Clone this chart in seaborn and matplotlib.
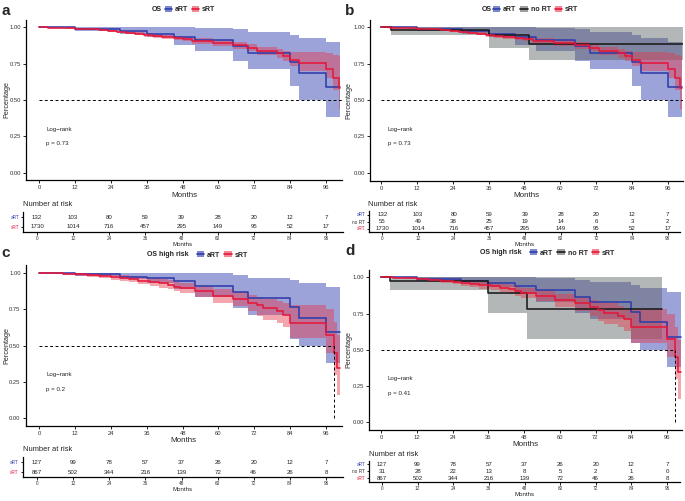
import numpy as np
import pandas as pd
import matplotlib
matplotlib.use("Agg")
import matplotlib.pyplot as plt
import seaborn as sns
from matplotlib.patches import Patch
from matplotlib.lines import Line2D
from matplotlib.legend_handler import HandlerTuple

# ---------------- data ----------------
months_ticks = [0, 12, 24, 36, 48, 60, 72, 84, 96]

# all patients
aRT_t = [0, 12, 27, 36, 45, 52, 65, 70, 84, 87, 96, 100.7]
aRT_s = [1.0, 0.99, 0.977, 0.957, 0.934, 0.91, 0.873, 0.826, 0.762, 0.686, 0.586, 0.586]
aRT_lo = [1.0, 0.975, 0.955, 0.935, 0.875, 0.837, 0.769, 0.71, 0.597, 0.499, 0.38, 0.38]
aRT_hi = [1.0, 1.0, 1.0, 1.0, 0.999, 0.998, 0.986, 0.968, 0.95, 0.927, 0.90, 0.90]

sRT_t = [0, 3, 6, 9, 12, 16, 20, 23, 26, 29, 32, 35, 38, 41, 45, 48, 51, 58, 65, 69.5,
         73, 79.5, 81.7, 84, 86.8, 96, 98.5, 100.2, 100.7]
sRT_s = [1.0, 0.997, 0.995, 0.992, 0.99, 0.985, 0.98, 0.975, 0.968, 0.962, 0.955, 0.948,
         0.94, 0.932, 0.925, 0.92, 0.906, 0.892, 0.876, 0.861, 0.837, 0.82, 0.80, 0.778,
         0.755, 0.71, 0.648, 0.58, 0.58]
sRT_lo = [1.0, 0.995, 0.992, 0.988, 0.985, 0.979, 0.973, 0.967, 0.959, 0.952, 0.944, 0.936,
          0.927, 0.918, 0.91, 0.904, 0.888, 0.872, 0.853, 0.835, 0.808, 0.788, 0.765, 0.735,
          0.70, 0.65, 0.57, 0.44, 0.44]
sRT_hi = [1.0, 0.999, 0.998, 0.996, 0.995, 0.991, 0.987, 0.983, 0.977, 0.972, 0.966, 0.96,
          0.953, 0.946, 0.94, 0.936, 0.924, 0.912, 0.899, 0.887, 0.866, 0.852, 0.835, 0.83,
          0.83, 0.82, 0.81, 0.80, 0.80]

noRT_t = [0, 3.4, 36.3, 49.5, 101]
noRT_s = [1.0, 0.978, 0.945, 0.888, 0.888]
noRT_lo = [1.0, 0.95, 0.86, 0.773, 0.773]
noRT_hi = [1.0, 1.0, 1.0, 1.0, 1.0]

# high risk
aRTh_t = [0, 12, 27, 36, 45, 52, 65, 70, 84, 87, 96, 100.7]
aRTh_s = [1.0, 0.989, 0.973, 0.962, 0.941, 0.909, 0.866, 0.827, 0.763, 0.69, 0.591, 0.591]
aRTh_lo = [1.0, 0.975, 0.955, 0.93, 0.885, 0.83, 0.757, 0.711, 0.546, 0.50, 0.378, 0.378]
aRTh_hi = [1.0, 1.0, 1.0, 1.0, 0.999, 0.998, 0.984, 0.966, 0.95, 0.927, 0.90, 0.90]

sRTh_t = [0, 4, 8, 12, 16, 20, 24, 27, 30, 33, 37, 40, 43, 45, 47, 52, 58.3, 65, 70,
          72.8, 75, 79.5, 81.7, 84, 96, 98.7, 99.6, 100.7]
sRTh_s = [1.0, 0.997, 0.994, 0.989, 0.984, 0.977, 0.97, 0.962, 0.955, 0.946, 0.938, 0.927,
          0.916, 0.904, 0.893, 0.872, 0.843, 0.82, 0.793, 0.775, 0.756, 0.736, 0.711, 0.657,
          0.574, 0.45, 0.345, 0.345]
sRTh_lo = [1.0, 0.992, 0.986, 0.978, 0.97, 0.962, 0.952, 0.942, 0.933, 0.922, 0.912, 0.898,
           0.885, 0.872, 0.86, 0.835, 0.795, 0.77, 0.735, 0.70, 0.675, 0.657, 0.629, 0.55,
           0.45, 0.3, 0.16, 0.16]
sRTh_hi = [1.0, 1.0, 0.999, 0.997, 0.995, 0.991, 0.987, 0.982, 0.977, 0.97, 0.964, 0.955,
           0.947, 0.937, 0.928, 0.91, 0.885, 0.865, 0.845, 0.83, 0.82, 0.805, 0.79, 0.78,
           0.75, 0.66, 0.57, 0.57]

noRTh_t = [0, 3, 36, 48.9, 94.2]
noRTh_s = [1.0, 0.974, 0.894, 0.781, 0.781]
noRTh_lo = [1.0, 0.912, 0.756, 0.574, 0.574]
noRTh_hi = [1.0, 1.0, 1.0, 1.0, 1.0]

# numbers at risk
risk_aRT = [132, 103, 80, 59, 39, 28, 20, 12, 7]
risk_noRT = [55, 49, 38, 25, 19, 14, 6, 3, 2]
risk_sRT = [1730, 1014, 716, 457, 295, 149, 95, 52, 17]
risk_aRTh = [127, 99, 78, 57, 37, 26, 20, 12, 7]
risk_noRTh = [31, 28, 22, 13, 8, 5, 2, 1, 0]
risk_sRTh = [867, 502, 344, 216, 139, 72, 46, 26, 8]

pvals = ["p = 0.73", "p = 0.73", "p = 0.2", "p = 0.41"]

# ---------------- style ----------------
LINE = {"aRT": "#2E3DAA", "no RT": "#1A1A1A", "sRT": "#E5173A"}
FILL = {"aRT": "#3A48B4", "no RT": "#5A6060", "sRT": "#E63A4C"}
FALPHA = {"aRT": 0.5, "no RT": 0.45, "sRT": 0.45}

sns.set_theme(style="white")
plt.rcParams["font.family"] = ["Liberation Sans", "DejaVu Sans"]

W, H = 685, 501
fig = plt.figure(figsize=(W / 100, H / 100), dpi=100)


def add_ax(l, t, r, b):
    return fig.add_axes([l / W, 1 - b / H, (r - l) / W, (b - t) / H])


def fx(px):
    return px / W


def fy(py):
    return 1 - py / H


def xlim_from(l, r, p0, p96):
    k = (p96 - p0) / 96.0
    return ((l - p0) / k, (r - p0) / k)


def style_axis(ax, lw=0.9):
    for s in ["top", "right"]:
        ax.spines[s].set_visible(False)
    for s in ["left", "bottom"]:
        ax.spines[s].set_color("black")
        ax.spines[s].set_linewidth(lw)


def km_panel(box, p0, p96, p1, pz, curves, pval, ylab_px, median=None):
    l, t, r, b = box
    ax = add_ax(l, t, r, b)
    rows = []
    for name, (tt, ss, lo, hi) in curves.items():
        ax.fill_between(tt, lo, hi, step="post", color=FILL[name],
                        alpha=FALPHA[name], lw=0)
        rows.append(pd.DataFrame({"Months": tt, "Percentage": ss, "Group": name}))
    df = pd.concat(rows, ignore_index=True)
    sns.lineplot(data=df, x="Months", y="Percentage", hue="Group",
                 palette=LINE, estimator=None, sort=False, legend=False,
                 drawstyle="steps-post", lw=1.15, ax=ax)
    ax.set_xlim(*xlim_from(l, r, p0, p96))
    k = (pz - p1)
    ax.set_ylim((pz - b) / k, (pz - t) / k)
    style_axis(ax)
    ax.set_xticks(months_ticks)
    ax.set_yticks([0, 0.25, 0.5, 0.75, 1.0])
    ax.set_yticklabels(["0.00", "0.25", "0.50", "0.75", "1.00"])
    ax.tick_params(axis="both", which="both", length=2.2, width=0.6, pad=1.5,
                   labelsize=4.2, colors="black", labelcolor="#333333",
                   bottom=True, left=True)
    ax.set_xlabel("Months", fontsize=5.8, labelpad=1.0)
    ax.set_ylabel("Percentage", fontsize=5.2)
    ax.yaxis.set_label_coords((ylab_px - l) / (r - l), 0.5)
    if median is None:
        ax.plot([0, ax.get_xlim()[1]], [0.5, 0.5], ls=(0, (3, 2.5)), color="black", lw=0.7)
    else:
        ax.plot([0, median], [0.5, 0.5], ls=(0, (3, 2.5)), color="black", lw=0.7)
        ax.plot([median, median], [0, 0.5], ls=(0, (3, 2.5)), color="black", lw=0.7)
    ax.text(2.3, 0.30, "Log\u2212rank", fontsize=4.4, ha="left", va="center", color="#222222")
    ax.text(2.3, 0.20, pval, fontsize=4.4, ha="left", va="center", color="#222222")
    return ax


def risk_table(box, p0, p96, table, title_xy):
    l, t, r, b = box
    ax = add_ax(l, t, r, b)
    n = len(table)
    ax.set_xlim(*xlim_from(l, r, p0, p96))
    ax.set_ylim(0.5, n + 0.5)
    style_axis(ax, lw=0.9)
    names = list(table.keys())
    for i, name in enumerate(names):
        yv = n - i
        for m, v in zip(months_ticks, table[name]):
            ax.text(m, yv, str(v), fontsize=4.4, ha="center", va="center", color="#222222")
    ax.set_yticks([n - i for i in range(n)])
    ax.set_yticklabels(names)
    ax.set_xticks(months_ticks)
    ax.tick_params(axis="both", length=1.8, width=0.6, pad=1.0, labelsize=3.4,
                   colors="black", bottom=True, left=True)
    for lab, name in zip(ax.get_yticklabels(), names):
        lab.set_color(LINE[name] if name != "no RT" else "#333333")
    for lab in ax.get_xticklabels():
        lab.set_color("#333333")
    ax.set_xlabel("Months", fontsize=4.4, labelpad=0.8)
    fig.text(fx(title_xy[0]), fy(title_xy[1]), "Number at risk", fontsize=5.4,
             ha="left", va="center", color="#222222")
    return ax


def legend_row(x_title, y, title, names, x_leg):
    fig.text(fx(x_title), fy(y), title, fontsize=5.0, weight="bold",
             ha="left", va="center", color="#222222")
    handles = [(Patch(facecolor=FILL[n], alpha=FALPHA[n] + 0.15, lw=0),
                Line2D([], [], color=LINE[n], lw=1.2)) for n in names]
    fig.legend(handles, names, handler_map={tuple: HandlerTuple(ndivide=1, pad=0)},
               loc="center left", bbox_to_anchor=(fx(x_leg), fy(y)), ncol=len(names),
               frameon=False, prop={"weight": "bold", "size": 5.0},
               handlelength=1.05, handleheight=0.9, handletextpad=0.4,
               columnspacing=0.6, borderpad=0, borderaxespad=0)


curves_a = {"aRT": (aRT_t, aRT_s, aRT_lo, aRT_hi),
            "sRT": (sRT_t, sRT_s, sRT_lo, sRT_hi)}
curves_b = {"aRT": (aRT_t, aRT_s, aRT_lo, aRT_hi),
            "no RT": (noRT_t, noRT_s, noRT_lo, noRT_hi),
            "sRT": (sRT_t, sRT_s, sRT_lo, sRT_hi)}
curves_c = {"aRT": (aRTh_t, aRTh_s, aRTh_lo, aRTh_hi),
            "sRT": (sRTh_t, sRTh_s, sRTh_lo, sRTh_hi)}
curves_d = {"aRT": (aRTh_t, aRTh_s, aRTh_lo, aRTh_hi),
            "no RT": (noRTh_t, noRTh_s, noRTh_lo, noRTh_hi),
            "sRT": (sRTh_t, sRTh_s, sRTh_lo, sRTh_hi)}

# panel a
km_panel((26, 20, 342, 180), 39.3, 326, 27.3, 172.7, curves_a, pvals[0], 10.0)
risk_table((23, 212, 343, 232), 37, 326, {"aRT": risk_aRT, "sRT": risk_sRT}, (23, 204))
legend_row(152, 9.5, "OS", ["aRT", "sRT"], 164.5)
fig.text(fx(1), fy(15), "a", fontsize=11, weight="bold", ha="left", va="baseline")

# panel b
km_panel((370, 20, 683, 180.5), 381, 667.7, 27.3, 172.7, curves_b, pvals[1], 352.5)
risk_table((369, 211, 680, 232), 382.3, 667.7,
           {"aRT": risk_aRT, "no RT": risk_noRT, "sRT": risk_sRT}, (368, 204))
legend_row(482, 9.5, "OS", ["aRT", "no RT", "sRT"], 493)
fig.text(fx(345), fy(15), "b", fontsize=11, weight="bold", ha="left", va="baseline")

# panel c
km_panel((25.7, 265.4, 342, 425.6), 39.3, 326, 272.7, 418.3, curves_c, pvals[2], 10.0,
         median=98.8)
risk_table((22.7, 457, 343, 477), 37, 326, {"aRT": risk_aRTh, "sRT": risk_sRTh}, (23, 449.3))
legend_row(147, 255, "OS high risk", ["aRT", "sRT"], 197)
fig.text(fx(1), fy(257), "c", fontsize=11, weight="bold", ha="left", va="baseline")

# panel d
km_panel((369, 270, 682, 429.6), 381, 667, 277.3, 422.3, curves_d, pvals[3], 352.5,
         median=98.8)
risk_table((369, 461, 680, 481.7), 382, 667,
           {"aRT": risk_aRTh, "no RT": risk_noRTh, "sRT": risk_sRTh}, (369, 454))
legend_row(480, 253, "OS high risk", ["aRT", "no RT", "sRT"], 530)
fig.text(fx(345), fy(255), "d", fontsize=11, weight="bold", ha="left", va="baseline")

fig.savefig("out.png", dpi=100)
